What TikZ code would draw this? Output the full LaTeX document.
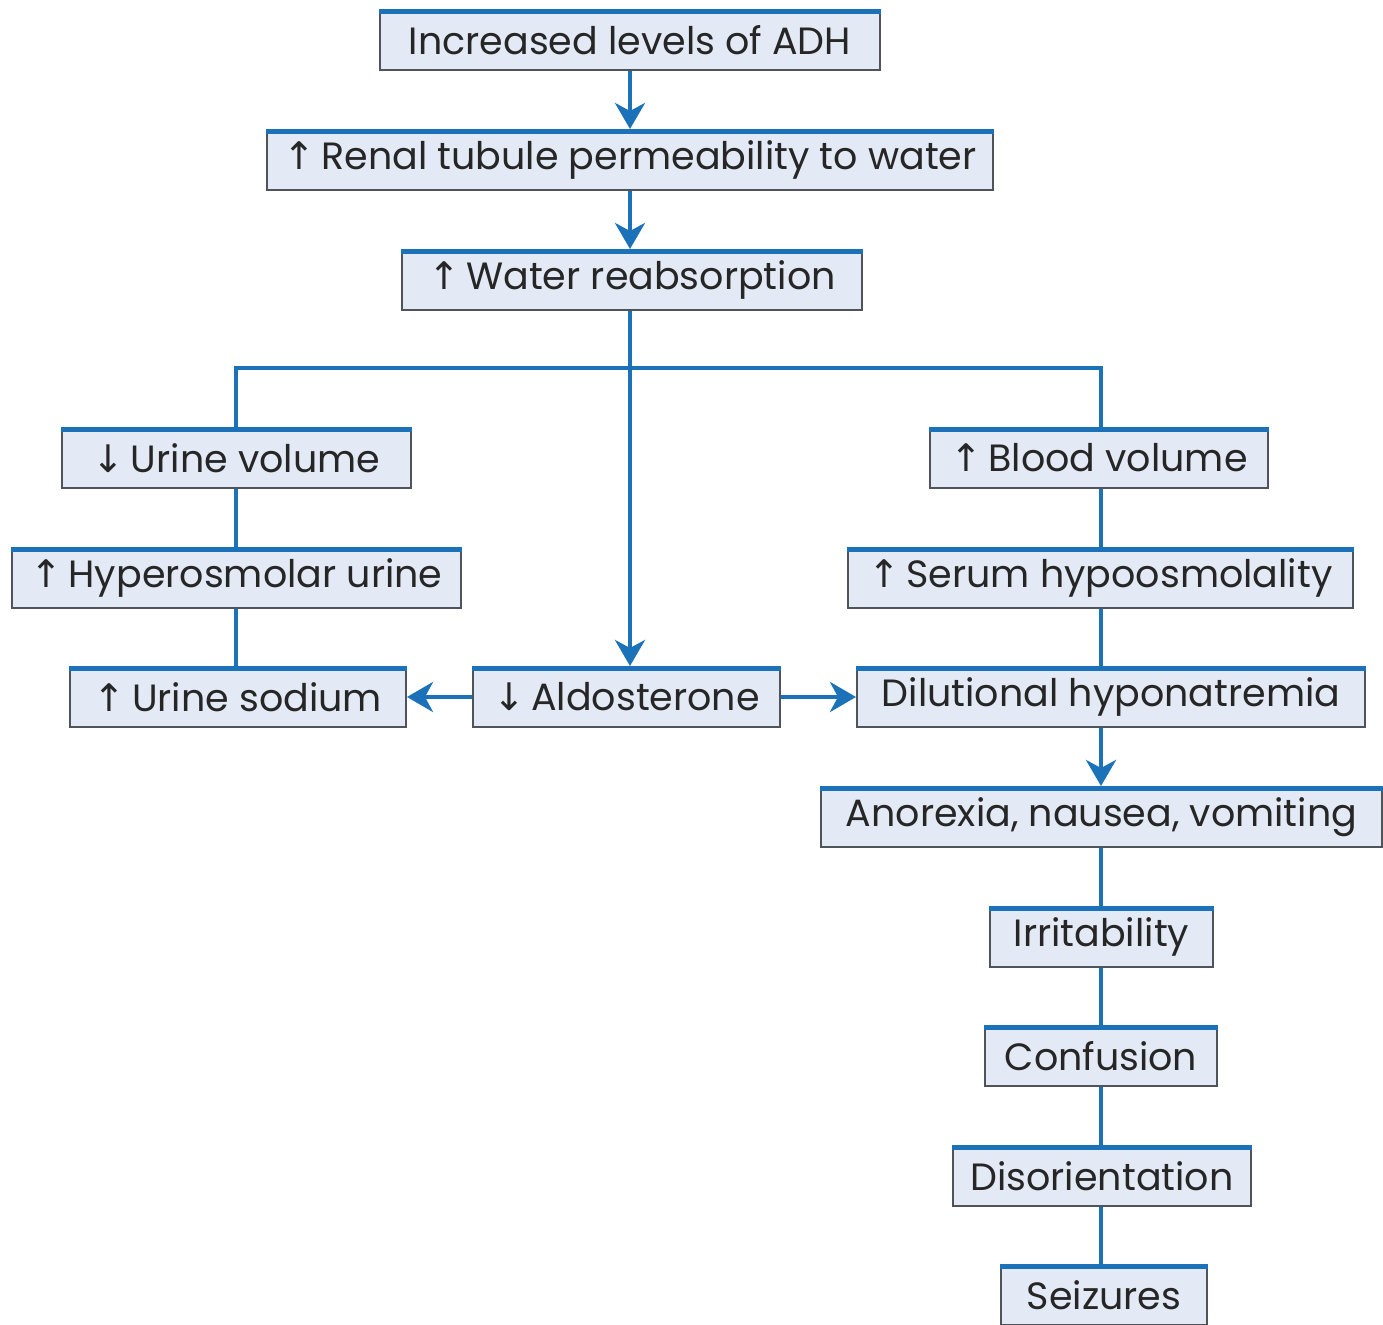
\documentclass[tikz,border=0pt]{standalone}
\usepackage{fontspec}
\setmainfont{Poppins}
\newfontfamily\arr{DejaVu Sans}
\usetikzlibrary{arrows.meta}
\definecolor{lineblue}{RGB}{28,114,184}
\definecolor{boxfill}{RGB}{227,234,245}
\definecolor{boxedge}{RGB}{80,84,90}
\newcommand{\up}{{\arr\char"2191}\,}
\newcommand{\dn}{{\arr\char"2193}\,}
\tikzset{
  x=0.5pt, y=-0.5pt,
  box/.style={draw=boxedge, line width=1pt, fill=boxfill, minimum height=30pt,
    inner sep=0pt, font=\fontsize{19}{22}\selectfont, text=black!85},
  topbar/.style={draw=lineblue, line width=2.6pt},
  conn/.style={draw=lineblue, line width=2pt},
  arrowc/.style={conn, -{Stealth[length=13pt,width=15pt,inset=4pt]}},
}
\begin{document}
\begin{tikzpicture}
\useasboundingbox (0,0) rectangle (1383,1325);
\fill[white] (0,0) rectangle (1383,1325);
\node[box, minimum width=250pt] (adh) at (630,40) {Increased levels of ADH};
\node[box, minimum width=363pt] (renal) at (630,160) {\up Renal tubule permeability to water};
\node[box, minimum width=230pt] (water) at (632,280) {\up Water reabsorption};
\node[box, minimum width=174.5pt] (uvol) at (236.5,458) {\dn Urine volume};
\node[box, minimum width=224.5pt] (hyper) at (236.5,578) {\up Hyperosmolar urine};
\node[box, minimum width=168pt] (usod) at (238,697) {\up Urine sodium};
\node[box, minimum width=153.5pt] (aldo) at (626.5,697) {\dn Aldosterone};
\node[box, minimum width=169pt] (bvol) at (1099,458) {\up Blood volume};
\node[box, minimum width=252.5pt] (serum) at (1100.5,578) {\up Serum hypoosmolality};
\node[box, minimum width=254pt] (dil) at (1111,697) {Dilutional hyponatremia};
\node[box, minimum width=280.5pt] (anor) at (1101.5,817) {Anorexia, nausea, vomiting};
\node[box, minimum width=111.5pt] (irr) at (1101.5,937) {Irritability};
\node[box, minimum width=116pt] (conf) at (1101,1056) {Confusion};
\node[box, minimum width=149pt] (dis) at (1102,1176) {Disorientation};
\node[box, minimum width=103pt] (seiz) at (1104,1295) {Seizures};
\foreach \n in {adh,renal,water,uvol,hyper,usod,aldo,bvol,serum,dil,anor,irr,conf,dis,seiz}
  \draw[topbar] ([yshift=-1.3pt]\n.north west) -- ([yshift=-1.3pt]\n.north east);
\coordinate (jl) at (236,368);
\coordinate (jr) at (1101,368);
\coordinate (jm) at (630,368);
\draw[arrowc] (adh.south -| 630,0) -- (renal.north -| 630,0);
\draw[arrowc] (renal.south -| 630,0) -- (water.north -| 630,0);
\draw[arrowc] (water.south -| 630,0) -- (aldo.north -| 630,0);
\draw[conn] (uvol.north -| jl) -- (jl) -- (jr) -- (bvol.north -| jr);
\draw[conn] (uvol.south -| jl) -- (hyper.north -| jl);
\draw[conn] (hyper.south -| jl) -- (usod.north -| jl);
\draw[arrowc] (aldo.west) -- (usod.east);
\draw[arrowc] (aldo.east) -- (dil.west);
\draw[conn] (bvol.south -| jr) -- (serum.north -| jr);
\draw[conn] (serum.south -| jr) -- (dil.north -| jr);
\draw[arrowc] (dil.south -| jr) -- (anor.north -| jr);
\draw[conn] (anor.south -| jr) -- (irr.north -| jr);
\draw[conn] (irr.south -| jr) -- (conf.north -| jr);
\draw[conn] (conf.south -| jr) -- (dis.north -| jr);
\draw[conn] (dis.south -| jr) -- (seiz.north -| jr);
\end{tikzpicture}
\end{document}
